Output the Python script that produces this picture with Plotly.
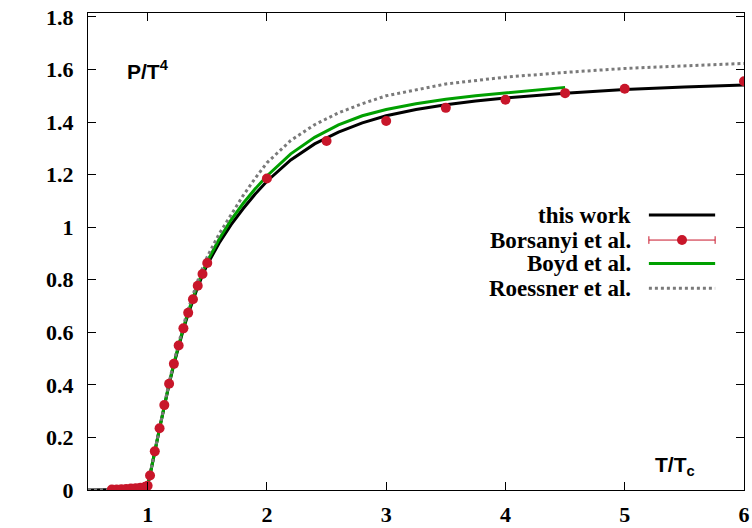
import plotly.graph_objects as go

# ---- data ----
this_x = [0.5, 0.6, 0.7, 0.8, 0.9, 0.95, 1.0, 1.02, 1.06, 1.1, 1.14, 1.18, 1.22, 1.26, 1.3, 1.34,
          1.38, 1.42, 1.46, 1.5, 1.6, 1.7, 1.8, 1.9, 2.0, 2.2, 2.4, 2.6, 2.8, 3.0, 3.25, 3.5,
          3.75, 4.0, 4.5, 5.0, 5.5, 6.0]
this_y = [0.0, 0.0005, 0.001, 0.002, 0.005, 0.008, 0.016, 0.055, 0.145, 0.235, 0.322, 0.402,
          0.478, 0.548, 0.612, 0.670, 0.723, 0.772, 0.817, 0.858, 0.940, 1.010, 1.070, 1.125,
          1.175, 1.256, 1.317, 1.362, 1.397, 1.424, 1.448, 1.466, 1.480, 1.492, 1.510, 1.524,
          1.533, 1.541]

bors_x = [0.70, 0.74, 0.78, 0.82, 0.86, 0.90, 0.94, 0.98, 1.00, 1.02, 1.06, 1.10, 1.14, 1.18,
          1.22, 1.26, 1.30, 1.34, 1.38, 1.42, 1.46, 1.50, 2.0, 2.5, 3.0, 3.5, 4.0, 4.5, 5.0, 6.0]
bors_y = [0.0015, 0.002, 0.003, 0.004, 0.0055, 0.007, 0.009, 0.012, 0.016, 0.055, 0.147, 0.235,
          0.323, 0.404, 0.480, 0.550, 0.615, 0.674, 0.726, 0.777, 0.822, 0.864, 1.185, 1.328,
          1.404, 1.454, 1.485, 1.510, 1.527, 1.555]

boyd_x = [1.0, 1.02, 1.06, 1.1, 1.14, 1.18, 1.22, 1.26, 1.3, 1.34, 1.38, 1.42, 1.46, 1.5, 1.6,
          1.7, 1.8, 1.9, 2.0, 2.2, 2.4, 2.6, 2.8, 3.0, 3.25, 3.5, 3.75, 4.0, 4.25, 4.5]
boyd_y = [0.02, 0.055, 0.147, 0.237, 0.325, 0.405, 0.482, 0.553, 0.618, 0.678, 0.732, 0.782,
          0.828, 0.870, 0.955, 1.028, 1.090, 1.145, 1.195, 1.279, 1.342, 1.389, 1.424, 1.448,
          1.470, 1.487, 1.500, 1.510, 1.522, 1.532]

roes_x = [0.5, 0.7, 0.9, 1.0, 1.02, 1.06, 1.1, 1.14, 1.18, 1.22, 1.26, 1.3, 1.34, 1.38, 1.42,
          1.46, 1.5, 1.6, 1.7, 1.8, 1.9, 2.0, 2.2, 2.4, 2.6, 2.8, 3.0, 3.5, 4.0, 4.5, 5.0, 5.5, 6.0]
roes_y = [0.0, 0.001, 0.005, 0.018, 0.06, 0.15, 0.24, 0.328, 0.41, 0.488, 0.56, 0.627, 0.688,
          0.744, 0.796, 0.844, 0.888, 0.975, 1.05, 1.12, 1.185, 1.245, 1.33, 1.39, 1.435, 1.47,
          1.50, 1.545, 1.571, 1.589, 1.604, 1.614, 1.623]

x_ticks = [1, 2, 3, 4, 5, 6]
x_tick_text = ["1", "2", "3", "4", "5", "6"]
y_ticks = [0, 0.2, 0.4, 0.6, 0.8, 1.0, 1.2, 1.4, 1.6, 1.8]
y_tick_text = ["0", "0.2", "0.4", "0.6", "0.8", "1", "1.2", "1.4", "1.6", "1.8"]

legend_names = ["this work", "Borsanyi et al.", "Boyd et al.", "Roessner et al."]

RED = "#c8162a"
GREEN = "#00a000"
GRAY = "#7a7a7a"

fig = go.Figure()
fig.add_trace(go.Scatter(x=this_x, y=this_y, mode="lines", line=dict(color="black", width=3),
                         showlegend=False))
fig.add_trace(go.Scatter(x=boyd_x, y=boyd_y, mode="lines", line=dict(color=GREEN, width=3),
                         showlegend=False))
fig.add_trace(go.Scatter(x=roes_x, y=roes_y, mode="lines",
                         line=dict(color=GRAY, width=3, dash="3px,3px"), showlegend=False))
fig.add_trace(go.Scatter(x=bors_x, y=bors_y, mode="markers",
                         marker=dict(color=RED, size=10, line=dict(width=0)), showlegend=False))

SERIF = "Liberation Serif"
serif_tick = dict(family=SERIF, size=22, color="black")
serif_leg = dict(family=SERIF, size=23, color="black")
sans_bold = dict(family="Liberation Sans", size=21, color="black")

# ---- manual legend (text right-aligned, sample on the right) ----
rows_y = [0.5765, 0.524, 0.475, 0.423]
txt_x = 0.831
s0, s1 = 0.855, 0.956
annotations = []
shapes = []
for name, ry in zip(legend_names, rows_y):
    annotations.append(dict(x=txt_x, y=ry, xref="paper", yref="paper", text="<b>" + name + "</b>",
                            showarrow=False, xanchor="right", yanchor="middle", font=serif_leg))
shapes.append(dict(type="line", xref="paper", yref="paper", x0=s0, x1=s1, y0=rows_y[0],
                   y1=rows_y[0], line=dict(color="black", width=3)))
shapes.append(dict(type="line", xref="paper", yref="paper", x0=s0, x1=s1, y0=rows_y[1],
                   y1=rows_y[1], line=dict(color=RED, width=1)))
for cx in (s0, s1):
    shapes.append(dict(type="line", xref="paper", yref="paper", x0=cx, x1=cx,
                       y0=rows_y[1] - 0.008, y1=rows_y[1] + 0.008, line=dict(color=RED, width=1)))
cxm = (s0 + s1) / 2
shapes.append(dict(type="circle", xref="paper", yref="paper", x0=cxm - 5 / 656, x1=cxm + 5 / 656,
                   y0=rows_y[1] - 5 / 477, y1=rows_y[1] + 5 / 477, fillcolor=RED,
                   line=dict(width=0)))
shapes.append(dict(type="line", xref="paper", yref="paper", x0=s0, x1=s1, y0=rows_y[2],
                   y1=rows_y[2], line=dict(color=GREEN, width=3)))
shapes.append(dict(type="line", xref="paper", yref="paper", x0=s0, x1=s1, y0=rows_y[3],
                   y1=rows_y[3], line=dict(color=GRAY, width=3, dash="3px,3px")))

annotations.append(dict(x=0.056, y=0.88, xref="paper", yref="paper",
                        text="<b>P/T<sup>4</sup></b>",
                        showarrow=False, xanchor="left", yanchor="middle", font=sans_bold))
annotations.append(dict(x=0.862, y=0.05, xref="paper", yref="paper",
                        text="<b>T/T<sub>c</sub></b>",
                        showarrow=False, xanchor="left", yanchor="middle", font=sans_bold))

fig.update_layout(
    width=752, height=528,
    margin=dict(l=88, r=8, t=13, b=38, autoexpand=False),
    paper_bgcolor="white", plot_bgcolor="white",
    showlegend=False,
    annotations=annotations,
    shapes=shapes,
    xaxis=dict(range=[0.5, 6], tickvals=x_ticks,
               ticktext=["<b>" + t + "</b>" for t in x_tick_text], ticks="inside", ticklen=8,
               tickwidth=1, tickcolor="black", showline=True, linecolor="black", linewidth=1,
               mirror="ticks", showgrid=False, zeroline=False, tickfont=serif_tick,
               ticklabelstandoff=5, automargin=False),
    yaxis=dict(range=[0, 1.815], tickvals=y_ticks,
               ticktext=["<b>" + t + "</b>" for t in y_tick_text], ticks="inside",
               ticklen=8, tickwidth=1, tickcolor="black", showline=True, linecolor="black",
               linewidth=1, mirror="ticks", showgrid=False, zeroline=False, tickfont=serif_tick,
               ticklabelstandoff=9, automargin=False),
)

fig.write_html("out.html")
